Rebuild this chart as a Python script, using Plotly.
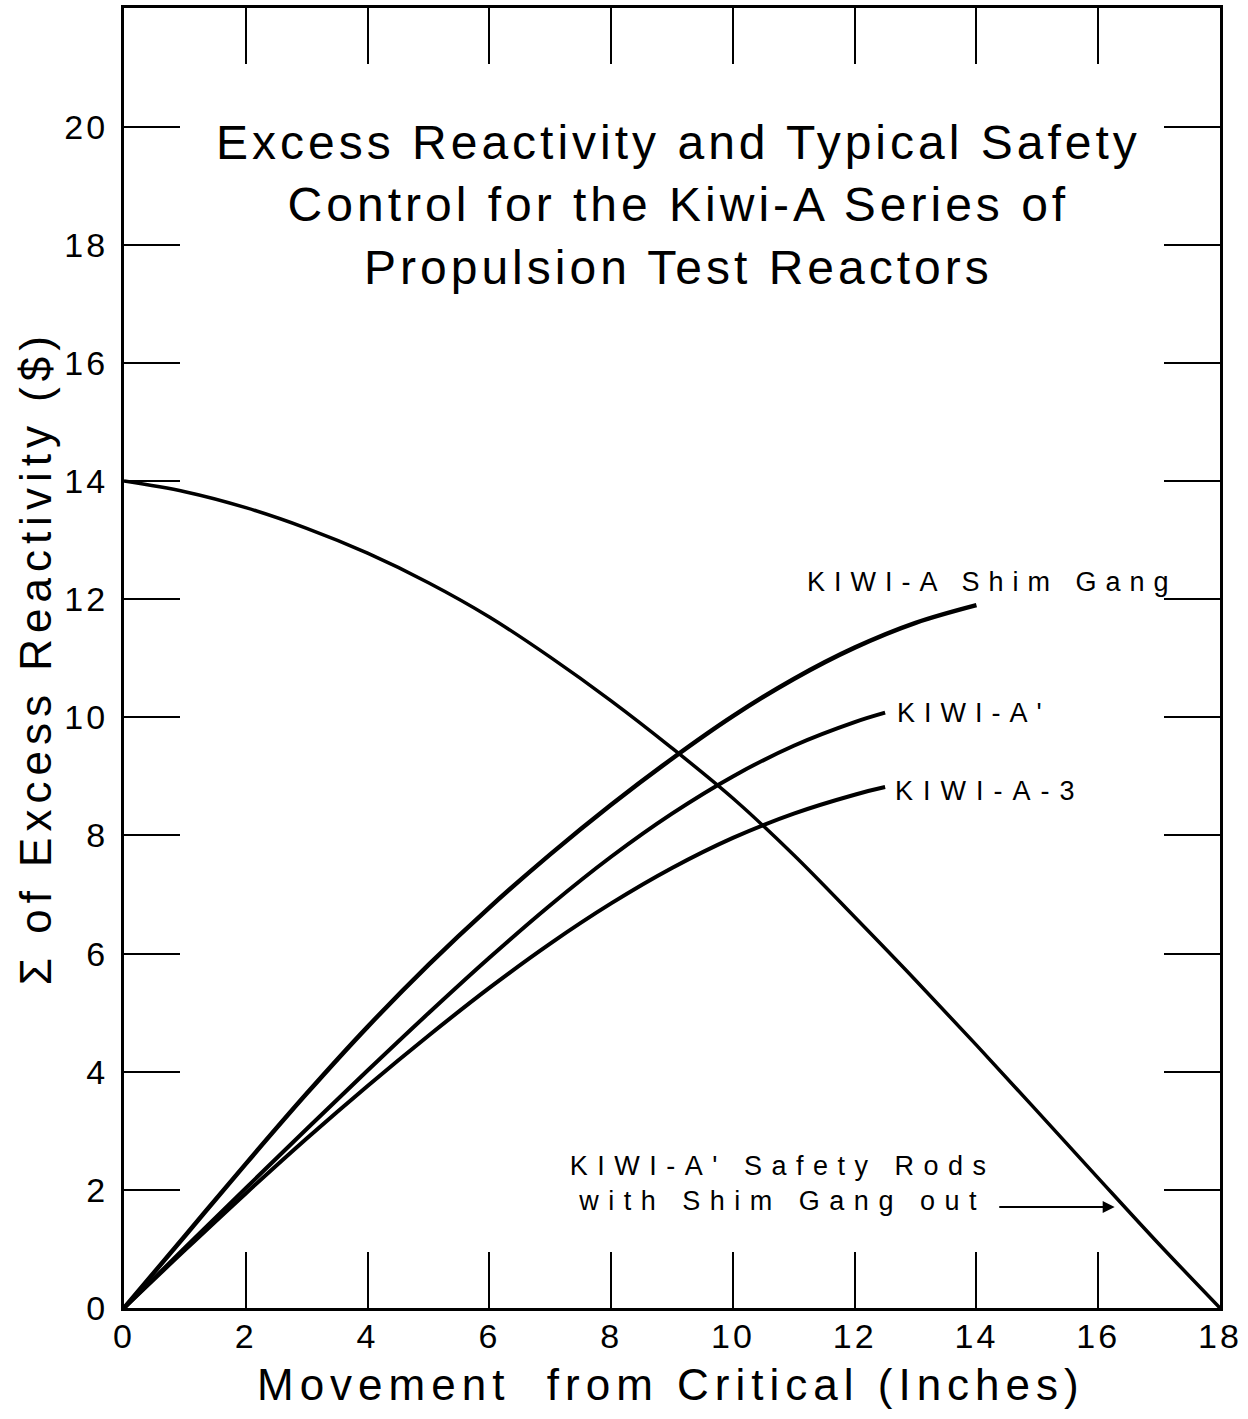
import plotly.graph_objects as go

# ---- data ----
safety_x = [0, 1, 2, 3, 4, 5, 6, 7, 8, 9, 10, 11, 12, 13, 14, 15, 16, 17, 18]
safety_y = [14.0, 13.82, 13.55, 13.2, 12.78, 12.28, 11.7, 11.02, 10.28, 9.48, 8.63,
            7.67, 6.62, 5.55, 4.45, 3.33, 2.2, 1.08, 0.0]

shim_x = [0, 1, 2, 3, 4, 5, 6, 7, 8, 9, 10, 11, 12, 13, 14]
shim_y = [0, 1.22, 2.44, 3.63, 4.76, 5.81, 6.78, 7.68, 8.52, 9.30, 10.02, 10.65, 11.18, 11.60, 11.90]

aprime_x = [0, 1, 2, 3, 4, 5, 6, 7, 8, 9, 10, 11, 12, 12.5]
aprime_y = [0, 1.02, 2.03, 3.03, 4.02, 4.99, 5.93, 6.82, 7.64, 8.37, 9.0, 9.52, 9.92, 10.08]

a3_x = [0, 1, 2, 3, 4, 5, 6, 7, 8, 9, 10, 11, 12, 12.5]
a3_y = [0, 0.98, 1.94, 2.87, 3.76, 4.61, 5.42, 6.17, 6.85, 7.45, 7.96, 8.37, 8.69, 8.82]

x_ticks = [0, 2, 4, 6, 8, 10, 12, 14, 16, 18]
y_ticks = [0, 2, 4, 6, 8, 10, 12, 14, 16, 18, 20]

title_text = ("Excess Reactivity and Typical Safety<br>"
              "Control for the Kiwi-A Series of<br>"
              "Propulsion Test Reactors")
x_title = "Movement  from Critical (Inches)"
y_title = "\u03a3 of Excess Reactivity ($)"

FONT = "Liberation Sans"

fig = go.Figure()
for xs, ys, w in [(safety_x, safety_y, 3.5), (shim_x, shim_y, 4.5),
                  (aprime_x, aprime_y, 4), (a3_x, a3_y, 4)]:
    fig.add_trace(go.Scatter(x=xs, y=ys, mode="lines",
                             line=dict(color="black", width=w, shape="spline", smoothing=1.0),
                             showlegend=False, hoverinfo="skip"))

ann = []
ann.append(dict(x=9.1, y=18.67, xref="x", yref="y", text=title_text, showarrow=False,
                font=dict(family=FONT, size=48, color="black"), align="center",
                xanchor="center", yanchor="middle"))
ann.append(dict(x=11.18, y=12.3, xref="x", yref="y", text="KIWI-A Shim Gang", showarrow=False,
                font=dict(family=FONT, size=27, color="black"), align="left",
                xanchor="left", yanchor="middle"))
ann.append(dict(x=12.66, y=10.07, xref="x", yref="y", text="KIWI-A'", showarrow=False,
                font=dict(family=FONT, size=27, color="black"), align="left",
                xanchor="left", yanchor="middle"))
ann.append(dict(x=12.63, y=8.75, xref="x", yref="y", text="KIWI-A-3", showarrow=False,
                font=dict(family=FONT, size=27, color="black"), align="left",
                xanchor="left", yanchor="middle"))
ann.append(dict(x=10.82, y=2.11, xref="x", yref="y",
                text="KIWI-A' Safety Rods<br>with Shim Gang out", showarrow=False,
                font=dict(family=FONT, size=27, color="black"), align="center",
                xanchor="center", yanchor="middle"))
ann.append(dict(x=16.27, y=1.71, xref="x", yref="y", ax=14.35, ay=1.71, axref="x", ayref="y",
                text="", showarrow=True, arrowhead=2, arrowsize=1.2, arrowwidth=2,
                arrowcolor="black"))
ann.append(dict(x=0.499, y=-0.059, xref="paper", yref="paper", text=x_title, showarrow=False,
                font=dict(family=FONT, size=44, color="black"), xanchor="center", yanchor="middle"))
ann.append(dict(x=-0.081, y=0.5, xref="paper", yref="paper", text=y_title, showarrow=False,
                textangle=-90,
                font=dict(family=FONT, size=44, color="black"), xanchor="center", yanchor="middle"))

axis_common = dict(showgrid=False, zeroline=False, showline=True, linecolor="black", linewidth=3,
                   mirror="allticks", ticks="inside", ticklen=56, tickwidth=2, tickcolor="black",
                   tickfont=dict(family=FONT, size=34, color="black"))

fig.update_layout(
    width=1248, height=1419,
    margin=dict(l=124, r=28, t=5, b=111),
    paper_bgcolor="white", plot_bgcolor="white",
    xaxis=dict(range=[0, 18], tickvals=x_ticks, ticktext=[str(v) for v in x_ticks],
               ticklabelstandoff=-4, **axis_common),
    yaxis=dict(range=[0, 22.01], tickvals=y_ticks, ticktext=[str(v) for v in y_ticks],
               ticklabelstandoff=6, **axis_common),
    annotations=ann,
)

post = """
document.body.style.margin = '0';
function ls(sel, v) {
  document.querySelectorAll(sel).forEach(function (e) { e.style.letterSpacing = v; });
}
ls('g.annotation[data-index="0"] text', '4px');
ls('g.annotation[data-index="1"] text', '9px');
ls('g.annotation[data-index="2"] text', '9px');
ls('g.annotation[data-index="3"] text', '10px');
ls('g.annotation[data-index="4"] text', '9.5px');
ls('g.annotation[data-index="6"] text', '6px');
ls('g.annotation[data-index="7"] text', '6px');
ls('.xtick text', '3px');
ls('.ytick text', '3px');
"""

fig.write_html("out.html", post_script=post, config={"displayModeBar": False})
